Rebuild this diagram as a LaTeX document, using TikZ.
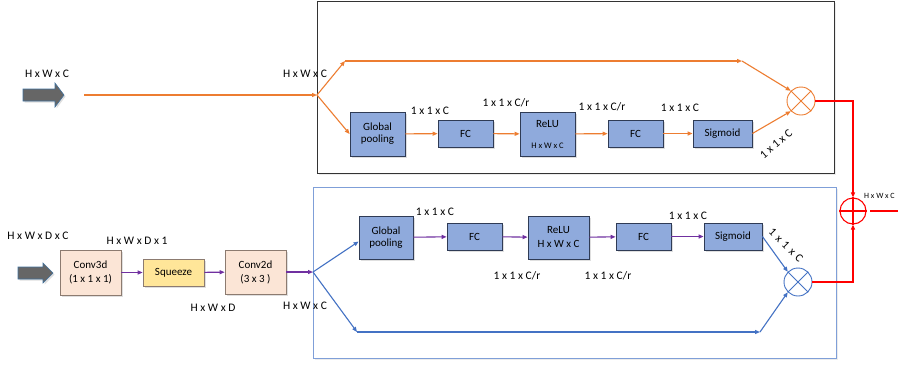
\documentclass[tikz,border=0pt]{standalone}
\usepackage{fontspec}
\setmainfont{Carlito}
\usetikzlibrary{arrows.meta,shadows}
\definecolor{boxblue}{HTML}{8FAADC}
\definecolor{boxedge}{HTML}{2F3B55}
\definecolor{orng}{HTML}{ED7D31}
\definecolor{purp}{HTML}{7030A0}
\definecolor{lblue}{HTML}{4472C4}
\definecolor{frameblue}{HTML}{7F9FD8}
\definecolor{peach}{HTML}{FBE5D6}
\definecolor{peachedge}{HTML}{8C7B70}
\definecolor{yel}{HTML}{FFE699}
\definecolor{greyarrow}{HTML}{666666}
\definecolor{greyedge}{HTML}{41719C}
\tikzset{
  shd/.style={drop shadow={opacity=0.25,shadow xshift=1.5pt,shadow yshift=-1.5pt}},
  blk/.style={draw=boxedge,fill=boxblue,line width=0.8pt,inner sep=1pt,align=center,font=\fontsize{11}{12}\selectfont,shd},
  convbox/.style={draw=peachedge,fill=peach,line width=0.7pt,inner sep=1pt,align=center,font=\fontsize{11}{14}\selectfont,shd},
  lbl/.style={font=\fontsize{11.5}{12}\selectfont,inner sep=0pt},
  tip/.style={-{Triangle[length=5pt,width=4pt]}},
  oline/.style={orng,line width=1.1pt,tip},
  pline/.style={purp,line width=1.1pt,tip},
  bline/.style={lblue,line width=1.1pt,tip},
  rline/.style={red,line width=1.2pt,tip},
  mulc/.style={circle,draw,fill=white,line width=0.9pt,minimum size=28pt,inner sep=0pt},
  grey/.style={fill=greyarrow,draw=greyedge,line width=0.6pt,shd},
  frameshd/.style={drop shadow={opacity=0.15,shadow xshift=1.5pt,shadow yshift=-1.5pt}}
}
\begin{document}
\begin{tikzpicture}[x=1pt,y=-1pt]
\useasboundingbox (0,0) rectangle (898,368);
% frames
\draw[black!80,fill=white,line width=0.8pt,frameshd] (317,1.5) rectangle (834,173);
\draw[frameblue,fill=white,line width=0.8pt,frameshd] (313,187) rectangle (836,358);
% grey input arrows
\draw[grey] (23,89) -- (55,89) -- (55,83) -- (64,95) -- (55,107) -- (55,101) -- (23,101) -- cycle;
\draw[grey] (18,267) -- (43,267) -- (43,263) -- (53,273) -- (43,283) -- (43,279) -- (18,279) -- cycle;
% ---------- top branch ----------
\coordinate (start1) at (84,95);
\coordinate (split1) at (317,95);
\coordinate (t1a) at (345,61);
\coordinate (t1b) at (742,61);
\node[blk,minimum width=55pt,minimum height=44pt] (gp1) at (377.5,134) {Global\\pooling};
\node[blk,minimum width=55pt,minimum height=27pt] (fc1a) at (465.5,133.5) {FC};
\node[blk,minimum width=55pt,minimum height=44pt] (relu1) at (547.5,134) {};
\node[font=\fontsize{11}{12}\selectfont,inner sep=0pt] (relu1t) at (547.5,124) {ReLU};
\node[font=\fontsize{8.5}{10}\selectfont,inner sep=0pt] (relu1s) at (547.5,146) {H x W x C};
\node[blk,minimum width=55pt,minimum height=27pt] (fc1b) at (635.5,133.5) {FC};
\node[blk,minimum width=59pt,minimum height=27pt] (sig1) at (722.5,133.5) {Sigmoid};
\node[mulc,draw=orng] (mul1) at (801,101) {};
\draw[orng,line width=0.9pt] (mul1.north east) -- (mul1.south west) (mul1.north west) -- (mul1.south east);
\draw[oline] (start1) -- (split1);
\draw[oline] (split1) -- (t1a);
\draw[oline] (t1a) -- (t1b);
\draw[oline] (t1b) -- (mul1.north west);
\draw[oline] (split1) -- (gp1.west);
\draw[oline] (gp1) -- (fc1a);
\draw[oline] (fc1a) -- (relu1);
\draw[oline] (relu1) -- (fc1b);
\draw[oline] (fc1b) -- (sig1);
\draw[oline] (sig1.east) -- (mul1.south west);
\node[lbl] (l1) at (47,74) {H x W x C};
\node[lbl] (l2) at (305,74) {H x W x C};
\node[lbl] (l3) at (430,111) {1 x 1 x C};
\node[lbl] (l4) at (506,103) {1 x 1 x C/r};
\node[lbl] (l5) at (602,107) {1 x 1 x C/r};
\node[lbl] (l6) at (680,108) {1 x 1 x C};
\node[lbl,rotate=40] (l7) at (776,144) {1 x 1 x C};
% ---------- bottom branch ----------
\node[convbox,minimum width=61pt,minimum height=45pt] (conv3) at (90.5,272.5) {Conv3d\\(1 x 1 x 1)};
\node[draw=peachedge,fill=yel,line width=0.7pt,inner sep=1pt,font=\fontsize{11}{12}\selectfont,shd,minimum width=61pt,minimum height=27pt] (sq) at (173.5,272.5) {Squeeze};
\node[convbox,minimum width=61pt,minimum height=44pt] (conv2) at (255.5,272) {Conv2d\\(3 x 3 )};
\coordinate (split2) at (313,272);
\coordinate (b1) at (357,332);
\coordinate (b2) at (760,332);
\node[blk,minimum width=54pt,minimum height=43pt] (gp2) at (386,237.5) {Global\\pooling};
\node[blk,minimum width=55pt,minimum height=27pt] (fc2a) at (474.5,236.5) {FC};
\node[blk,minimum width=61pt,minimum height=43pt,font=\fontsize{11}{14}\selectfont] (relu2) at (558.5,237.5) {ReLU\\H x W x C};
\node[blk,minimum width=55pt,minimum height=27pt] (fc2b) at (643.5,236.5) {FC};
\node[blk,minimum width=58pt,minimum height=27pt] (sig2) at (733,236.5) {Sigmoid};
\node[mulc,draw=lblue] (mul2) at (798,282) {};
\draw[lblue,line width=0.9pt] (mul2.north east) -- (mul2.south west) (mul2.north west) -- (mul2.south east);
\draw[pline] (conv3) -- (sq);
\draw[pline] (sq) -- (conv2);
\draw[pline] (conv2) -- (split2);
\draw[bline] (split2) -- ([yshift=-4pt]gp2.west);
\draw[bline] (split2) -- (b1);
\draw[bline] (b1) -- (b2);
\draw[bline] (b2) -- (mul2.south west);
\draw[pline] (gp2) -- (fc2a);
\draw[pline] (fc2a) -- (relu2);
\draw[pline] (relu2) -- (fc2b);
\draw[pline] (fc2b) -- (sig2);
\draw[bline] (sig2.east) -- (mul2.north west);
\node[lbl] (m1) at (38,236) {H x W x D x C};
\node[lbl] (m2) at (137,241) {H x W x D x 1};
\node[lbl] (m3) at (213,308) {H x W x D};
\node[lbl] (m4) at (305,306) {H x W x C};
\node[lbl] (m5) at (435,212) {1 x 1 x C};
\node[lbl] (m6) at (517,276) {1 x 1 x C/r};
\node[lbl] (m7) at (608,276) {1 x 1 x C/r};
\node[lbl] (m8) at (688,216) {1 x 1 x C};
\node[lbl,rotate=-45] (m9) at (786,245) {1\,\,x\,\,1\,\,x\,\,C};
% ---------- merge ----------
\node[circle,draw=red,line width=1.1pt,minimum size=26pt,inner sep=0pt] (add) at (853,211) {};
\draw[red,line width=1.1pt] (add.north) -- (add.south) (add.west) -- (add.east);
\draw[rline] (mul1.east) -| (add.north);
\draw[rline] (mul2.east) -| (add.south);
\coordinate (out1) at (870,211);
\coordinate (out2) at (906,211);
\draw[rline] (out1) -- (out2);
\node[font=\fontsize{8}{9}\selectfont,inner sep=0pt,anchor=west] (o1) at (864,196) {H x W x C};
\end{tikzpicture}
\end{document}
